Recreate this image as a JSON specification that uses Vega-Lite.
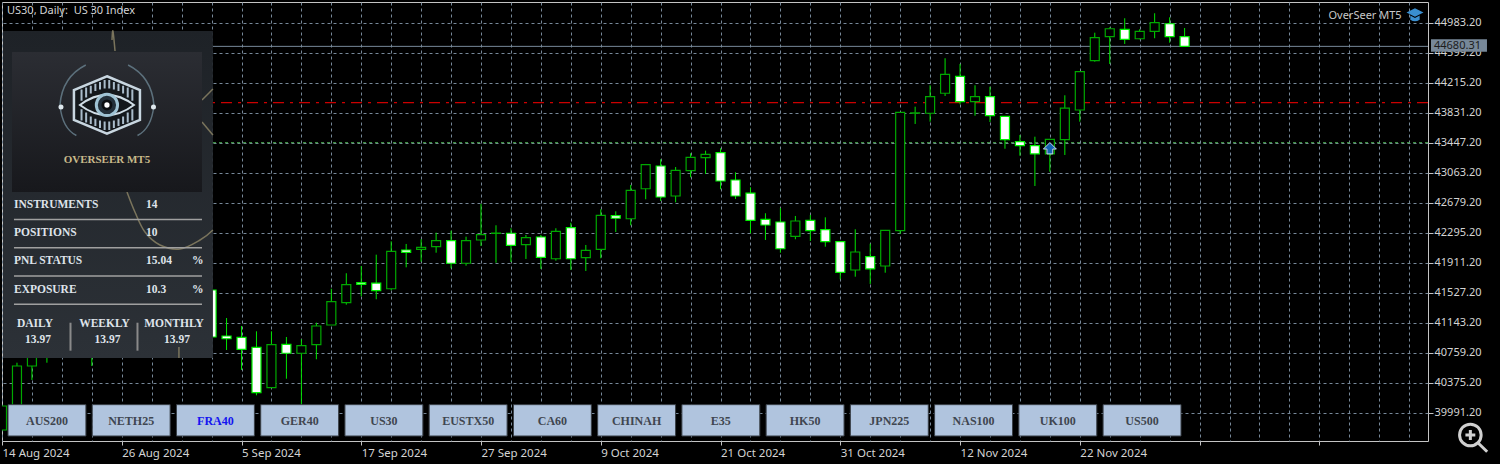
{"$schema":"https://vega.github.io/schema/vega-lite/v6.json","width":1426,"height":439,"autosize":{"type":"none"},"padding":{"left":2,"top":2,"right":72,"bottom":23},"background":"#000000","config":{"view":{"stroke":"#c4c4c4","strokeWidth":1},"text":{"font":"Noto Sans"}},"datasets":{"one":[{}],"candles":[{"i":0,"o":39770,"h":40077,"l":39770,"c":40077},{"i":1,"o":40077,"h":40631,"l":40077,"c":40589},{"i":2,"o":40589,"h":40922,"l":40410,"c":40858},{"i":3,"o":40858,"h":41050,"l":40631,"c":40986},{"i":6,"o":40858,"h":41050,"l":40589,"c":40986},{"i":14,"o":41562,"h":41626,"l":40922,"c":40960},{"i":15,"o":40973,"h":41203,"l":40794,"c":40938},{"i":16,"o":40956,"h":41101,"l":40538,"c":40803},{"i":17,"o":40828,"h":41033,"l":40214,"c":40247},{"i":18,"o":40311,"h":41033,"l":40311,"c":40862},{"i":19,"o":40867,"h":40960,"l":40426,"c":40752},{"i":20,"o":40752,"h":40931,"l":40090,"c":40849},{"i":21,"o":40862,"h":41143,"l":40675,"c":41101},{"i":22,"o":41114,"h":41578,"l":41114,"c":41412},{"i":23,"o":41399,"h":41776,"l":41374,"c":41630},{"i":24,"o":41655,"h":41869,"l":41481,"c":41635},{"i":25,"o":41651,"h":42014,"l":41443,"c":41553},{"i":26,"o":41578,"h":42185,"l":41558,"c":42057},{"i":27,"o":42074,"h":42151,"l":41852,"c":42044},{"i":28,"o":42083,"h":42211,"l":41924,"c":42108},{"i":29,"o":42116,"h":42295,"l":42039,"c":42193},{"i":30,"o":42193,"h":42321,"l":41840,"c":41904},{"i":31,"o":41904,"h":42244,"l":41873,"c":42193},{"i":32,"o":42202,"h":42663,"l":42125,"c":42270},{"i":33,"o":42286,"h":42390,"l":41911,"c":42290},{"i":34,"o":42288,"h":42352,"l":41920,"c":42134},{"i":35,"o":42142,"h":42266,"l":41959,"c":42231},{"i":36,"o":42240,"h":42266,"l":41831,"c":41980},{"i":37,"o":41962,"h":42352,"l":41937,"c":42313},{"i":38,"o":42359,"h":42423,"l":41818,"c":41962},{"i":39,"o":41975,"h":42138,"l":41805,"c":42070},{"i":40,"o":42083,"h":42595,"l":41968,"c":42518},{"i":41,"o":42513,"h":42569,"l":42304,"c":42480},{"i":42,"o":42474,"h":42906,"l":42390,"c":42838},{"i":43,"o":42858,"h":43175,"l":42723,"c":43166},{"i":44,"o":43149,"h":43235,"l":42701,"c":42752},{"i":45,"o":42765,"h":43136,"l":42684,"c":43094},{"i":46,"o":43089,"h":43312,"l":43004,"c":43260},{"i":47,"o":43255,"h":43345,"l":43047,"c":43299},{"i":48,"o":43319,"h":43376,"l":42851,"c":42957},{"i":49,"o":42970,"h":43068,"l":42727,"c":42765},{"i":50,"o":42803,"h":42876,"l":42288,"c":42454},{"i":51,"o":42467,"h":42544,"l":42202,"c":42394},{"i":52,"o":42432,"h":42611,"l":42039,"c":42090},{"i":53,"o":42249,"h":42509,"l":42211,"c":42445},{"i":54,"o":42454,"h":42522,"l":42189,"c":42321},{"i":55,"o":42334,"h":42492,"l":42116,"c":42180},{"i":56,"o":42180,"h":42189,"l":41699,"c":41788},{"i":57,"o":41818,"h":42339,"l":41732,"c":42048},{"i":58,"o":41988,"h":42154,"l":41639,"c":41831},{"i":59,"o":41869,"h":42330,"l":41783,"c":42326},{"i":60,"o":42321,"h":43840,"l":42279,"c":43836},{"i":61,"o":43825,"h":43908,"l":43687,"c":43829},{"i":62,"o":43824,"h":44182,"l":43716,"c":44036},{"i":63,"o":44080,"h":44528,"l":44045,"c":44323},{"i":64,"o":44297,"h":44455,"l":43939,"c":43972},{"i":65,"o":43972,"h":44182,"l":43793,"c":44036},{"i":66,"o":44036,"h":44164,"l":43712,"c":43793},{"i":67,"o":43785,"h":43789,"l":43370,"c":43486},{"i":68,"o":43460,"h":43546,"l":43281,"c":43409},{"i":69,"o":43409,"h":43524,"l":42893,"c":43303},{"i":70,"o":43303,"h":43495,"l":43076,"c":43491},{"i":71,"o":43486,"h":44054,"l":43290,"c":43891},{"i":72,"o":43866,"h":44360,"l":43716,"c":44356},{"i":73,"o":44497,"h":44855,"l":44484,"c":44791},{"i":74,"o":44804,"h":44924,"l":44455,"c":44906},{"i":75,"o":44899,"h":45040,"l":44711,"c":44771},{"i":76,"o":44778,"h":44899,"l":44771,"c":44873},{"i":77,"o":44873,"h":45104,"l":44784,"c":44983},{"i":78,"o":44970,"h":45052,"l":44727,"c":44804},{"i":79,"o":44804,"h":44915,"l":44680,"c":44680}],"curves":[{"seg":"A","i":7.41,"p":44877},{"seg":"A","i":7.35,"p":44762},{"seg":"A","i":7.55,"p":44621},{"seg":"B","i":13.36,"p":43994},{"seg":"B","i":14.09,"p":44135},{"seg":"C","i":13.36,"p":43712},{"seg":"C","i":14.09,"p":43546},{"seg":"D","i":8.35,"p":42816},{"seg":"D","i":8.88,"p":42560},{"seg":"D","i":9.55,"p":42304},{"seg":"D","i":10.55,"p":42138},{"seg":"D","i":11.89,"p":42087},{"seg":"D","i":13.23,"p":42202},{"seg":"D","i":14.09,"p":42330},{"seg":"E","i":11.82,"p":40832},{"seg":"E","i":11.82,"p":40691}],"table":[{"row":"INSTRUMENTS","val":"14","unit":""},{"row":"POSITIONS","val":"10","unit":""},{"row":"PNL STATUS","val":"15.04","unit":"%"},{"row":"EXPOSURE","val":"10.3","unit":"%"}],"periods":[{"period":"DAILY","val":"13.97"},{"period":"WEEKLY","val":"13.97"},{"period":"MONTHLY","val":"13.97"}],"buttons":[{"name":"AUS200"},{"name":"NETH25"},{"name":"FRA40"},{"name":"GER40"},{"name":"US30"},{"name":"EUSTX50"},{"name":"CA60"},{"name":"CHINAH"},{"name":"E35"},{"name":"HK50"},{"name":"JPN225"},{"name":"NAS100"},{"name":"UK100"},{"name":"US500"}]},"layer":[{"layer":[{"data":{"name":"one"},"mark":{"type":"rule","color":"#778899","strokeWidth":1},"encoding":{"x":{"datum":0,"type":"quantitative","scale":{"domain":[0,95.26],"zero":false,"nice":false,"padding":0},"axis":{"orient":"bottom","values":[0,2,4,6,8,10,12,14,16,18,20,22,24,26,28,30,32,34,36,38,40,42,44,46,48,50,52,54,56,58,60,62,64,66,68,70,72,74,76,78,80,82,84,86,88,90,92,94],"tickCount":500,"title":null,"domain":false,"grid":true,"gridColor":"#778899","gridDash":[3,3],"gridWidth":1,"gridOpacity":1,"tickColor":"#c4c4c4","tickSize":4,"tickOpacity":{"condition":{"test":"datum.value % 8 === 0","value":1},"value":0},"labelColor":"#d4d4d4","labelFont":"Noto Sans","labelFontSize":11.5,"labelAlign":"left","labelPadding":2,"labelOverlap":false,"labelBound":false,"labelFlush":false,"labelExpr":"({'0':'14 Aug 2024','8':'26 Aug 2024','16':'5 Sep 2024','24':'17 Sep 2024','32':'27 Sep 2024','40':'9 Oct 2024','48':'21 Oct 2024','56':'31 Oct 2024','64':'12 Nov 2024','72':'22 Nov 2024'})[datum.value] || ''"}},"x2":{"datum":95.26},"y":{"datum":44680.31,"type":"quantitative","scale":{"domain":[39628.96,45248.16],"zero":false,"nice":false,"padding":0},"axis":{"orient":"right","values":[39991.2,40375.2,40759.2,41143.2,41527.2,41911.2,42295.2,42679.2,43063.2,43447.2,43831.2,44215.2,44599.2,44983.2],"tickCount":100,"format":".2f","title":null,"domain":false,"grid":true,"gridColor":"#778899","gridDash":[3,3],"gridWidth":1,"gridOpacity":1,"tickColor":"#c4c4c4","tickSize":5,"labelColor":"#d4d4d4","labelFont":"Noto Sans","labelFontSize":11,"labelPadding":1,"labelOverlap":false,"labelBound":false,"labelFlush":false}}}},{"data":{"name":"one"},"mark":{"type":"rule","color":"#ff0000","strokeWidth":1,"strokeDash":[11,6,3,6]},"encoding":{"y":{"datum":43959,"type":"quantitative"}}},{"data":{"name":"one"},"mark":{"type":"rule","color":"#4caf50","strokeWidth":1,"strokeDash":[3,3]},"encoding":{"y":{"datum":43447.2,"type":"quantitative"}}},{"data":{"name":"candles"},"mark":{"type":"rule","color":"#00e400","strokeWidth":1,"clip":true},"encoding":{"x":{"field":"i","type":"quantitative"},"y":{"field":"l","type":"quantitative"},"y2":{"field":"h"}}},{"data":{"name":"candles"},"mark":{"type":"bar","size":9,"strokeWidth":1.2,"clip":true},"encoding":{"x":{"field":"i","type":"quantitative"},"y":{"field":"o","type":"quantitative"},"y2":{"field":"c"},"fill":{"condition":{"test":"datum.c >= datum.o","value":"#000000"},"value":"#ffffff"},"stroke":{"condition":{"test":"datum.c >= datum.o","value":"#00a800"},"value":"#00f000"}}},{"data":{"name":"one"},"mark":{"type":"point","shape":"M0,-1 L1,0 L0.45,0 L0.45,0.75 L-0.45,0.75 L-0.45,0 L-1,0 Z","size":169,"filled":true,"fill":"#1464b4","stroke":"#c8d8e8","strokeWidth":1,"opacity":1},"encoding":{"x":{"datum":70.0,"type":"quantitative"},"y":{"datum":43366,"type":"quantitative"}}},{"data":{"name":"one"},"mark":{"type":"rect","fill":"#778899"},"encoding":{"x":{"datum":95.46,"type":"quantitative"},"x2":{"datum":99.2},"y":{"datum":44771,"type":"quantitative"},"y2":{"datum":44612}}},{"data":{"name":"one"},"mark":{"type":"text","text":"44680.31","align":"left","baseline":"middle","color":"#1c1c1c","fontSize":11},"encoding":{"x":{"datum":95.66,"type":"quantitative"},"y":{"datum":44691,"type":"quantitative"}}},{"data":{"name":"one"},"mark":{"type":"text","text":"US30, Daily:\u00a0\u00a0US 30 Index","align":"left","baseline":"middle","color":"#d4d4d4","fontSize":11},"encoding":{"x":{"datum":0.334,"type":"quantitative"},"y":{"datum":45133,"type":"quantitative"}}},{"data":{"name":"one"},"mark":{"type":"text","text":"OverSeer MT5","align":"right","baseline":"middle","color":"#c8c8c8","fontSize":11},"encoding":{"x":{"datum":93.5,"type":"quantitative"},"y":{"datum":45073,"type":"quantitative"}}},{"data":{"name":"one"},"mark":{"type":"point","shape":"M-1,-0.3 L0,-0.8 L1,-0.3 L0,0.2 Z M-0.55,0.05 L-0.55,0.55 Q0,0.95 0.55,0.55 L0.55,0.05 L0,0.35 Z","size":289,"filled":true,"fill":"#3a8fd0","opacity":1},"encoding":{"x":{"datum":94.39,"type":"quantitative"},"y":{"datum":45082,"type":"quantitative"}}},{"data":{"name":"one"},"mark":{"type":"point","shape":"M0.55,-0.17 A0.72,0.72 0 1 0 -0.89,-0.17 A0.72,0.72 0 1 0 0.55,-0.17 M0.35,0.37 L0.95,0.95 M-0.17,-0.5 L-0.17,0.16 M-0.5,-0.17 L0.16,-0.17","size":900,"filled":false,"stroke":"#d0d0d0","strokeWidth":3,"opacity":1},"encoding":{"x":{"datum":98.26,"type":"quantitative"},"y":{"datum":39674,"type":"quantitative"}}},{"data":{"name":"one"},"mark":{"type":"rect","fill":{"gradient":"linear","x1":0,"y1":0,"x2":0,"y2":1,"stops":[{"offset":0,"color":"#1e2227"},{"offset":1,"color":"#2c3137"}]}},"encoding":{"x":{"datum":0.067,"type":"quantitative"},"x2":{"datum":14.09},"y":{"datum":44877,"type":"quantitative"},"y2":{"datum":40691}}},{"data":{"name":"curves"},"mark":{"type":"line","color":"#7a745c","strokeWidth":1.5,"interpolate":"cardinal"},"encoding":{"x":{"field":"i","type":"quantitative"},"y":{"field":"p","type":"quantitative"},"detail":{"field":"seg"},"order":null}},{"data":{"name":"one"},"mark":{"type":"rect","fill":{"gradient":"linear","x1":0,"y1":0,"x2":0,"y2":1,"stops":[{"offset":0,"color":"#2b2d33"},{"offset":1,"color":"#17181c"}]}},"encoding":{"x":{"datum":0.668,"type":"quantitative"},"x2":{"datum":13.36},"y":{"datum":44608,"type":"quantitative"},"y2":{"datum":42816}}},{"data":{"name":"one"},"mark":{"type":"point","shape":"M-0.45,-0.85 Q-0.95,-0.6 -1,0 Q-0.95,0.5 -0.65,0.65 M0.45,-0.85 Q0.95,-0.6 1,0 Q0.95,0.5 0.65,0.65","size":8836,"filled":false,"stroke":"#5c707c","strokeWidth":1.5,"opacity":1},"encoding":{"x":{"datum":7.01,"type":"quantitative"},"y":{"datum":43930,"type":"quantitative"}}},{"data":{"name":"one"},"mark":{"type":"point","shape":"circle","size":25,"filled":true,"fill":"#dfe8ee","opacity":1},"encoding":{"x":{"datum":3.94,"type":"quantitative"},"y":{"datum":43904,"type":"quantitative"}}},{"data":{"name":"one"},"mark":{"type":"point","shape":"circle","size":25,"filled":true,"fill":"#dfe8ee","opacity":1},"encoding":{"x":{"datum":10.12,"type":"quantitative"},"y":{"datum":43904,"type":"quantitative"}}},{"data":{"name":"one"},"mark":{"type":"point","shape":"M0,-0.87 L1,-0.45 L1,0.45 L0,0.87 L-1,0.45 L-1,-0.45 Z","size":4356,"filled":true,"fill":"#14181c","stroke":"#c8d6e0","strokeWidth":2.5,"opacity":1},"encoding":{"x":{"datum":7.01,"type":"quantitative"},"y":{"datum":43930,"type":"quantitative"}}},{"data":{"name":"one"},"mark":{"type":"point","shape":"M0.07,-0.76 L0.07,-0.5 M-0.07,-0.76 L-0.07,-0.5 M0.21,-0.7 L0.21,-0.47 M-0.21,-0.7 L-0.21,-0.47 M0.35,-0.64 L0.35,-0.42 M-0.35,-0.64 L-0.35,-0.42 M0.49,-0.58 L0.49,-0.35 M-0.49,-0.58 L-0.49,-0.35 M0.63,-0.53 L0.63,-0.23 M-0.63,-0.53 L-0.63,-0.23 M0.77,-0.47 L0.77,-0.13 M-0.77,-0.47 L-0.77,-0.13 M0.07,0.76 L0.07,0.5 M-0.07,0.76 L-0.07,0.5 M0.21,0.7 L0.21,0.47 M-0.21,0.7 L-0.21,0.47 M0.35,0.64 L0.35,0.42 M-0.35,0.64 L-0.35,0.42 M0.49,0.58 L0.49,0.35 M-0.49,0.58 L-0.49,0.35 M0.63,0.53 L0.63,0.23 M-0.63,0.53 L-0.63,0.23 M0.77,0.47 L0.77,0.13 M-0.77,0.47 L-0.77,0.13","size":4356,"filled":false,"stroke":"#aabccb","strokeWidth":2,"opacity":1},"encoding":{"x":{"datum":7.01,"type":"quantitative"},"y":{"datum":43930,"type":"quantitative"}}},{"data":{"name":"one"},"mark":{"type":"point","shape":"M-1,0 Q0,-0.75 1,0 Q0,0.75 -1,0 Z","size":2916,"filled":true,"fill":"#14181c","stroke":"#d0dde6","strokeWidth":2,"opacity":1},"encoding":{"x":{"datum":7.01,"type":"quantitative"},"y":{"datum":43930,"type":"quantitative"}}},{"data":{"name":"one"},"mark":{"type":"point","shape":"circle","size":452,"filled":true,"fill":"#23303a","stroke":"#9fc3d4","strokeWidth":3,"opacity":1},"encoding":{"x":{"datum":7.01,"type":"quantitative"},"y":{"datum":43930,"type":"quantitative"}}},{"data":{"name":"one"},"mark":{"type":"point","shape":"circle","size":120,"filled":true,"fill":"#0c0f12","opacity":1},"encoding":{"x":{"datum":7.01,"type":"quantitative"},"y":{"datum":43930,"type":"quantitative"}}},{"data":{"name":"one"},"mark":{"type":"point","shape":"circle","size":28,"filled":true,"fill":"#ffffff","opacity":1},"encoding":{"x":{"datum":7.01,"type":"quantitative"},"y":{"datum":43930,"type":"quantitative"}}},{"data":{"name":"one"},"mark":{"type":"text","text":"OVERSEER MT5","align":"center","baseline":"middle","color":"#c8b98a","font":"Liberation Serif","fontWeight":"bold","fontSize":11},"encoding":{"x":{"datum":7.01,"type":"quantitative"},"y":{"datum":43226,"type":"quantitative"}}},{"data":{"name":"one"},"mark":{"type":"rule","color":"#8a8a8a","strokeWidth":2},"encoding":{"x":{"datum":4.576,"type":"quantitative"},"y":{"datum":41143,"type":"quantitative"},"y2":{"datum":40785}}},{"data":{"name":"one"},"mark":{"type":"rule","color":"#8a8a8a","strokeWidth":2},"encoding":{"x":{"datum":9.05,"type":"quantitative"},"y":{"datum":41143,"type":"quantitative"},"y2":{"datum":40785}}}]},{"data":{"name":"table"},"layer":[{"mark":{"type":"rule","color":"#a0a0a0","strokeWidth":1.5,"yOffset":14.5},"encoding":{"x":{"datum":0.8,"type":"quantitative","scale":{"domain":[0,95.26],"zero":false,"nice":false},"axis":null},"x2":{"datum":13.36},"y":{"field":"row","type":"nominal","sort":null,"scale":{"type":"point","domain":["INSTRUMENTS","POSITIONS","PNL STATUS","EXPOSURE"],"range":[203,287.7],"padding":0},"axis":null}}},{"mark":{"type":"text","align":"left","baseline":"middle","color":"#dfe3ea","font":"Liberation Serif","fontWeight":"bold","fontSize":11.5},"encoding":{"x":{"datum":0.8,"type":"quantitative"},"y":{"field":"row","type":"nominal","sort":null},"text":{"field":"row"}}},{"mark":{"type":"text","align":"left","baseline":"middle","color":"#dfe3ea","font":"Liberation Serif","fontWeight":"bold","fontSize":11.5},"encoding":{"x":{"datum":9.62,"type":"quantitative"},"y":{"field":"row","type":"nominal","sort":null},"text":{"field":"val"}}},{"mark":{"type":"text","align":"left","baseline":"middle","color":"#dfe3ea","font":"Liberation Serif","fontWeight":"bold","fontSize":11.5},"encoding":{"x":{"datum":12.69,"type":"quantitative"},"y":{"field":"row","type":"nominal","sort":null},"text":{"field":"unit"}}}]},{"data":{"name":"periods"},"layer":[{"mark":{"type":"text","align":"center","baseline":"middle","color":"#dfe3ea","font":"Liberation Serif","fontWeight":"bold","fontSize":11.5},"encoding":{"x":{"field":"period","type":"nominal","sort":null,"scale":{"type":"point","domain":["DAILY","WEEKLY","MONTHLY"],"range":[33,172],"padding":0},"axis":null},"y":{"datum":41126,"type":"quantitative","scale":{"domain":[39628.96,45248.16],"zero":false,"nice":false},"axis":null},"text":{"field":"period"}}},{"mark":{"type":"text","align":"center","baseline":"middle","dx":3,"color":"#dfe3ea","font":"Liberation Serif","fontWeight":"bold","fontSize":11.5},"encoding":{"x":{"field":"period","type":"nominal","sort":null},"y":{"datum":40921,"type":"quantitative"},"text":{"field":"val"}}}]},{"data":{"name":"buttons"},"layer":[{"mark":{"type":"rect","fill":"#b0c4de","stroke":"#3a4048","strokeWidth":1},"encoding":{"x":{"field":"name","type":"nominal","sort":null,"scale":{"type":"band","range":[6,1179],"paddingInner":0.075,"paddingOuter":0},"axis":null},"y":{"datum":40094,"type":"quantitative","scale":{"domain":[39628.96,45248.16],"zero":false,"nice":false},"axis":null},"y2":{"datum":39693}}},{"mark":{"type":"text","align":"center","baseline":"middle","font":"Liberation Serif","fontWeight":"bold","fontSize":12},"encoding":{"x":{"field":"name","type":"nominal","sort":null},"y":{"datum":39891,"type":"quantitative"},"text":{"field":"name"},"color":{"condition":{"test":"datum.name === 'FRA40'","value":"#1414f0"},"value":"#3f4650"}}}]}],"resolve":{"scale":{"x":"independent","y":"independent"}}}
